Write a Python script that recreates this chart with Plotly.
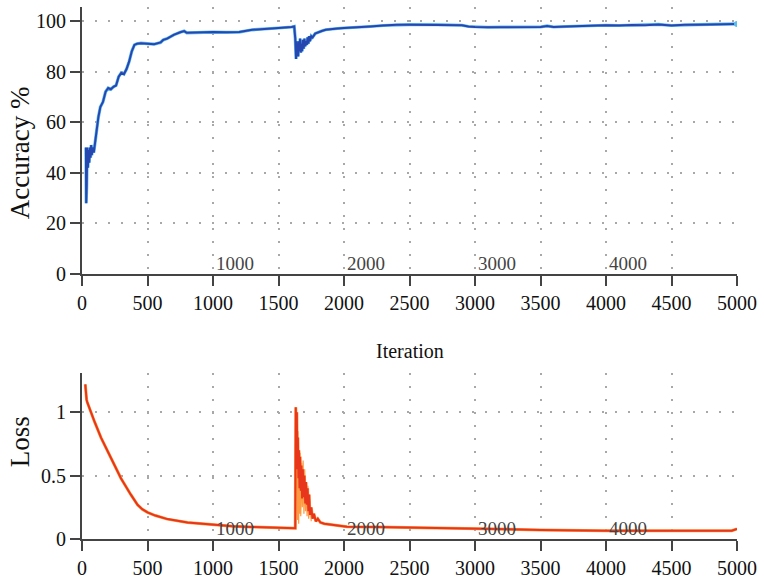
import plotly.graph_objects as go

# ---------------- data ----------------
acc_iter = [30, 32, 36, 40, 45, 50, 55, 60, 65, 70, 75, 80, 90, 100, 110, 125, 140, 160, 180, 200,
            220, 240, 260, 280, 300, 320, 340, 360, 380, 400, 420, 450, 500, 550, 600, 620, 650, 700,
            750, 780, 800, 900, 1000, 1100, 1200, 1300, 1400, 1500, 1600, 1620, 1628, 1634, 1638,
            1642, 1646, 1650, 1655, 1660, 1665, 1670, 1675, 1680, 1686, 1692, 1698, 1704, 1710,
            1716, 1722, 1728, 1734, 1740, 1750, 1760, 1780, 1800,
            1830, 1860, 1900, 1950, 2000, 2100, 2200, 2300, 2400, 2500, 2700, 2900, 2950, 3000, 3100,
            3200, 3300, 3400, 3500, 3550, 3600, 3700, 3800, 3900, 4000, 4100, 4200, 4300, 4400, 4500,
            4600, 4700, 4800, 4900, 5000]
acc_vals = [50, 28, 35, 50, 42, 49, 44, 50, 46, 51, 47, 50, 48, 52, 57, 62, 66, 68, 72, 73.5,
            73, 74, 74.5, 78, 79.5, 79, 81, 84, 88, 90.5, 91, 91.2, 91, 90.8, 91.5, 92.5, 93, 94.5,
            95.5, 96, 95.3, 95.5, 95.6, 95.5, 95.6, 96.5, 97, 97.2, 97.6, 97.8, 93, 85, 92,
            87, 91, 86, 92, 88, 93, 87.5, 91, 88, 92.5, 89, 93, 90, 92,
            90.5, 93.5, 91, 94, 92, 94, 93.5, 95, 95.5,
            96, 96.5, 96.8, 97, 97.2, 97.4, 97.8, 98.2, 98.5, 98.5, 98.5, 98.3, 97.8, 97.6, 97.5,
            97.6, 97.5, 97.5, 97.6, 98.0, 97.6, 97.8, 98, 98.2, 98.3, 98.2, 98.4, 98.3, 98.6, 98.2,
            98.5, 98.5, 98.6, 98.6, 98.8]

loss_iter = [25, 30, 35, 40, 60, 94, 145, 220, 297, 373, 424, 460, 500, 560, 652, 805, 1008, 1150,
             1287, 1450, 1617, 1628, 1632, 1636, 1640, 1644, 1648, 1652, 1656, 1660, 1665, 1670,
             1675, 1680, 1686, 1692, 1698, 1704, 1710, 1716, 1722, 1728, 1734, 1740, 1750, 1760,
             1770, 1785, 1800, 1820, 1850, 1900, 1950, 2023, 2250, 2500, 2750, 3000, 3500, 4000,
             4500, 4900, 4960, 5000]
loss_vals = [1.22, 1.12, 1.10, 1.08, 1.02, 0.93, 0.80, 0.64, 0.48, 0.35, 0.27, 0.235, 0.21, 0.185,
             0.157, 0.13, 0.11, 0.10, 0.095, 0.09, 0.083, 0.085, 1.04, 0.70, 1.00, 0.55, 0.80, 0.48,
             0.70, 0.40, 0.65, 0.38, 0.58, 0.32, 0.55, 0.33, 0.50, 0.28, 0.45, 0.27, 0.40, 0.22,
             0.35, 0.19, 0.25, 0.16, 0.20, 0.14, 0.16, 0.13, 0.12, 0.115, 0.105, 0.097, 0.095, 0.09,
             0.082, 0.078, 0.072, 0.066, 0.064, 0.063, 0.065, 0.08]

# raw (lighter) loss streaks inside the spike
spike_iter = [1630, 1634, 1638, 1642, 1646, 1650, 1654, 1658, 1662, 1666, 1670, 1676, 1682, 1688,
              1694, 1700, 1706, 1712, 1718, 1724, 1730, 1740, 1750]
spike_vals = [0.09, 1.02, 0.60, 0.95, 0.15, 0.85, 0.12, 0.70, 0.20, 0.68, 0.18, 0.60, 0.25, 0.62,
              0.20, 0.55, 0.22, 0.45, 0.18, 0.42, 0.16, 0.30, 0.14]

x_ticks = [0, 500, 1000, 1500, 2000, 2500, 3000, 3500, 4000, 4500, 5000]
acc_ticks = [0, 20, 40, 60, 80, 100]
loss_ticks = [0, 0.5, 1]
loss_tick_text = ["0", "0.5", "1"]
inner_labels = [1000, 2000, 3000, 4000]

FONT = "Liberation Serif"
AX = "#444444"
GRID = "#a8a8a8"

fig = go.Figure()

# accuracy: light halo + dark line
fig.add_trace(go.Scatter(x=acc_iter, y=acc_vals, mode="lines", xaxis="x", yaxis="y",
                         line=dict(color="#5bbcf0", width=3.2), hoverinfo="skip"))
fig.add_trace(go.Scatter(x=acc_iter, y=acc_vals, mode="lines", xaxis="x", yaxis="y",
                         line=dict(color="#2746b0", width=2)))
fig.add_trace(go.Scatter(x=[acc_iter[-1]], y=[acc_vals[-1]], mode="markers", xaxis="x", yaxis="y",
                         marker=dict(color="#5bbcf0", size=6)))

# loss: orange streaks + red line
fig.add_trace(go.Scatter(x=loss_iter, y=loss_vals, mode="lines", xaxis="x2", yaxis="y2",
                         line=dict(color="#ff9a40", width=3)))
fig.add_trace(go.Scatter(x=spike_iter, y=spike_vals, mode="lines", xaxis="x2", yaxis="y2",
                         line=dict(color="#ff9a40", width=1.2)))
fig.add_trace(go.Scatter(x=loss_iter, y=loss_vals, mode="lines", xaxis="x2", yaxis="y2",
                         line=dict(color="#e8361c", width=2)))

common_x = dict(range=[0, 5000], tickvals=x_ticks, showline=True, linecolor=AX, linewidth=2,
                ticks="outside", ticklen=10, tickwidth=2, tickcolor=AX, showgrid=True,
                gridcolor=GRID, gridwidth=2, griddash="2px,11px", zeroline=False,
                tickfont=dict(family=FONT, size=20, color="#111"))
common_y = dict(showline=True, linecolor=AX, linewidth=2, ticks="outside", ticklen=10,
                tickwidth=2, tickcolor=AX, showgrid=True, gridcolor=GRID, gridwidth=2,
                griddash="2px,11px", zeroline=False,
                tickfont=dict(family=FONT, size=20, color="#111"))

top_dom = [0.498, 1.0]
bot_dom = [0.0, 0.312]

fig.update_layout(
    width=764, height=586,
    margin=dict(l=82, r=22, t=7, b=41),
    paper_bgcolor="white", plot_bgcolor="white",
    showlegend=False,
    font=dict(family=FONT),
    xaxis=dict(domain=[0, 1], anchor="y", **common_x),
    yaxis=dict(domain=top_dom, anchor="x", range=[0, 105.5], tickvals=acc_ticks, **common_y),
    xaxis2=dict(domain=[0, 1], anchor="y2", **common_x),
    yaxis2=dict(domain=bot_dom, anchor="x2", range=[0, 1.31], tickvals=loss_ticks,
                ticktext=loss_tick_text, **common_y),
)

ann = []
for v in inner_labels:
    ann.append(dict(x=v, y=4, xref="x", yref="y", text=str(v), showarrow=False,
                    xanchor="left", yanchor="middle", xshift=1,
                    font=dict(family=FONT, size=19, color="#444")))
    ann.append(dict(x=v, y=0.086, xref="x2", yref="y2", text=str(v), showarrow=False,
                    xanchor="left", yanchor="middle", xshift=1,
                    font=dict(family=FONT, size=19, color="#444")))
ann.append(dict(x=0.5, y=0.353, xref="paper", yref="paper", text="Iteration", showarrow=False,
                xanchor="center", yanchor="middle",
                font=dict(family=FONT, size=20, color="#111")))
ann.append(dict(x=0, y=0.725, xref="paper", yref="paper", text="Accuracy %", showarrow=False,
                xanchor="center", yanchor="middle", xshift=-62, textangle=-90,
                font=dict(family=FONT, size=27, color="#111")))
ann.append(dict(x=0, y=0.182, xref="paper", yref="paper", text="Loss", showarrow=False,
                xanchor="center", yanchor="middle", xshift=-62, textangle=-90,
                font=dict(family=FONT, size=27, color="#111")))
fig.update_layout(annotations=ann)

fig.write_html("out.html")
